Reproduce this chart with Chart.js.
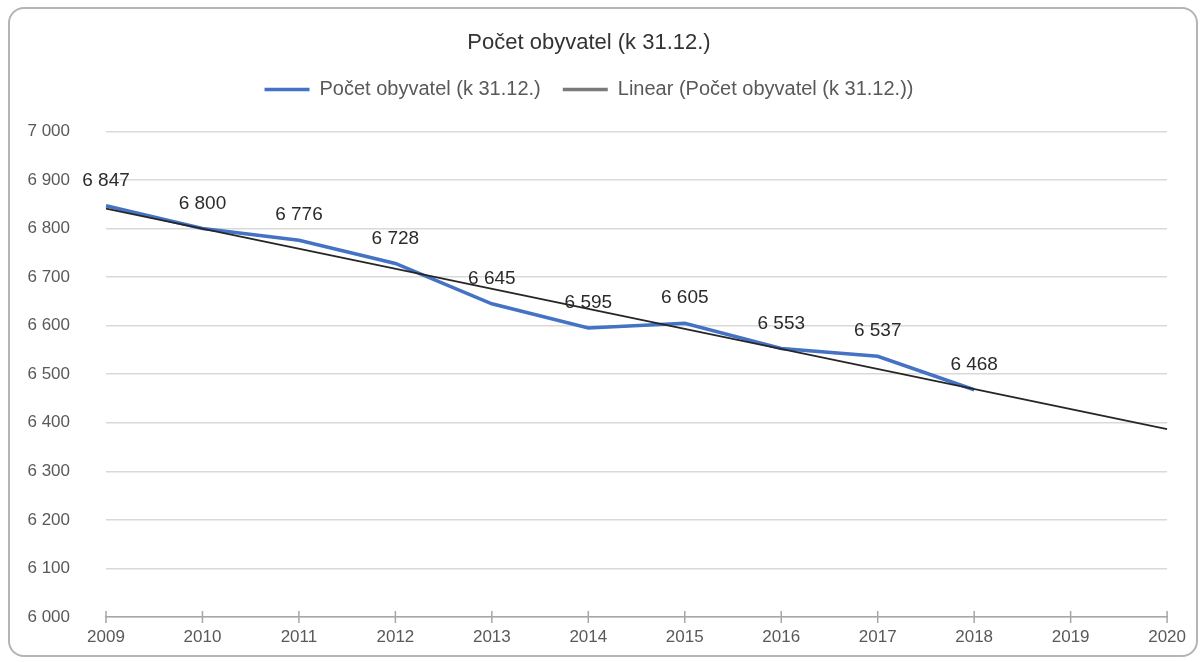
<!DOCTYPE html>
<html lang="cs">
<head>
<meta charset="UTF-8">
<title>Počet obyvatel</title>
<script src="https://cdn.jsdelivr.net/npm/chart.js"></script>
<style>
    body { margin: 0; background: #fff; }
    #frame {
        position: absolute; left: 8px; top: 7px;
        width: 1190px; height: 650px;
        box-sizing: border-box;
        border: 2px solid #b4b4b4; border-radius: 16px;
        background: #fff;
    }
    #chart { display: block; }
</style>
</head>
<body>
<div id="frame"><canvas id="chart" width="1186" height="646"></canvas></div>
<script>
    // data
    const years = ['2009', '2010', '2011', '2012', '2013', '2014', '2015', '2016', '2017', '2018', '2019', '2020'];
    const population = [6847, 6800, 6776, 6728, 6645, 6595, 6605, 6553, 6537, 6468, null, null];
    // linear trend line, only its two ends (2009 and 2020)
    const trend = [6841, null, null, null, null, null, null, null, null, null, null, 6387];
    const seriesName = 'Počet obyvatel (k 31.12.)';
    const trendName = 'Linear (Počet obyvatel (k 31.12.))';

    const FONT = '"Liberation Sans", Arial, sans-serif';
    const BLUE = '#4472c4';

    function fmt(v) {
        return String(v).replace(/\B(?=(\d{3})+(?!\d))/g, ' ');
    }

    // value labels above the blue line
    const valueLabels = {
        id: 'valueLabels',
        afterDatasetsDraw(chart) {
            const ctx = chart.ctx;
            const meta = chart.getDatasetMeta(0);
            ctx.save();
            ctx.font = '19px ' + FONT;
            ctx.fillStyle = '#2b2b2b';
            ctx.textAlign = 'center';
            ctx.textBaseline = 'middle';
            meta.data.forEach((pt, i) => {
                const v = population[i];
                if (v == null) return;
                ctx.fillText(fmt(v), pt.x, pt.y - 25);
            });
            ctx.restore();
        }
    };

    // small tick marks crossing the x axis line
    const crossTicks = {
        id: 'crossTicks',
        beforeDatasetsDraw(chart) {
            const ctx = chart.ctx;
            const xs = chart.scales.x;
            const bottom = chart.chartArea.bottom;
            ctx.save();
            ctx.strokeStyle = '#a6a6a6';
            ctx.lineWidth = 1.5;
            xs.ticks.forEach((t, i) => {
                const x = xs.getPixelForTick(i);
                ctx.beginPath();
                ctx.moveTo(x, bottom - 6);
                ctx.lineTo(x, bottom + 6);
                ctx.stroke();
            });
            ctx.restore();
        }
    };

    const chart = new Chart(document.getElementById('chart'), {
        type: 'line',
        data: {
            labels: years,
            datasets: [{
                label: seriesName,
                data: population,
                borderColor: BLUE,
                backgroundColor: BLUE,
                borderWidth: 3.5,
                pointRadius: 0,
                tension: 0,
                order: 1
            }, {
                label: trendName,
                data: trend,
                borderColor: '#262626',
                backgroundColor: '#262626',
                borderWidth: 1.8,
                pointRadius: 0,
                spanGaps: true,
                order: 0
            }]
        },
        options: {
            responsive: false,
            animation: false,
            layout: { padding: { left: 0, right: 28, top: 0, bottom: 0 } },
            plugins: {
                title: {
                    display: true,
                    text: seriesName,
                    color: '#333333',
                    font: { family: FONT, size: 22, weight: 'normal' },
                    padding: { top: 21, bottom: 1 }
                },
                // empty spacer under the legend
                subtitle: {
                    display: true,
                    text: '',
                    weight: 500,
                    font: { size: 10, lineHeight: 1 },
                    padding: { top: 12, bottom: 0 }
                },
                legend: {
                    display: true,
                    labels: {
                        color: '#595959',
                        font: { family: FONT, size: 20 },
                        usePointStyle: true,
                        pointStyle: 'line',
                        pointStyleWidth: 45,
                        boxHeight: 20,
                        padding: 22,
                        sort: (a, b) => a.datasetIndex - b.datasetIndex,
                        generateLabels(chart) {
                            const items = Chart.defaults.plugins.legend.labels.generateLabels(chart);
                            items.forEach(it => {
                                it.lineWidth = 3.5;
                                it.pointStyle = 'line';
                                it.strokeStyle = it.datasetIndex === 0 ? BLUE : '#7a7a7a';
                            });
                            return items;
                        }
                    }
                },
                tooltip: { enabled: false }
            },
            scales: {
                x: {
                    offset: false,
                    grid: { display: false, drawTicks: false },
                    border: { display: true, color: '#a6a6a6', width: 1.5 },
                    ticks: {
                        color: '#595959',
                        font: { family: FONT, size: 17 },
                        padding: 10,
                        maxRotation: 0,
                        autoSkip: false
                    },
                    afterFit(scale) { scale.height = 38; }
                },
                y: {
                    min: 6000,
                    max: 7000,
                    grid: {
                        color: '#d9d9d9', lineWidth: 1.5,
                        drawTicks: true, tickLength: 36, tickColor: 'rgba(0,0,0,0)'
                    },
                    border: { display: false },
                    ticks: {
                        stepSize: 100,
                        color: '#595959',
                        font: { family: FONT, size: 17 },
                        padding: 0,
                        callback: v => fmt(v)
                    },
                    afterFit(scale) { scale.width = 96; }
                }
            }
        },
        plugins: [crossTicks, valueLabels]
    });
</script>
</body>
</html>
